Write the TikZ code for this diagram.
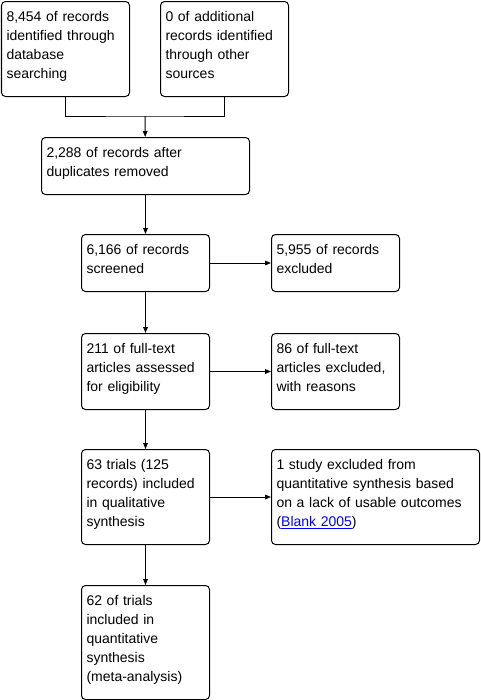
\documentclass[tikz,border=0pt]{standalone}
\usepackage{fontspec}
\setmainfont{Liberation Sans}
\usetikzlibrary{arrows.meta}

\begin{document}
\begin{tikzpicture}[x=0.75pt, y=-0.75pt,
    box/.style={draw, line width=0.75pt, rounded corners=3pt, anchor=north west,
        align=left, inner xsep=3.75pt, inner ysep=0pt,
        font=\fontsize{10.5pt}{14.25pt}\selectfont,
        execute at begin node={\rule{0pt}{15pt}},
        execute at end node={\rule[-13.5pt]{0pt}{0pt}}},
    narrow/.style={box, text width=88.5pt},
    wide/.style={box, text width=148.5pt},
    flow/.style={-{Triangle[length=4.5pt,width=3.5pt]}, line width=0.75pt}]
    \useasboundingbox (0,0) rectangle (481,700);

    % Identification boxes
    \node[narrow] (ident) at (1,1) {8,454 of records\\identified through\\database\\searching};
    \node[narrow] (other) at (160,1) {0 of additional\\records identified\\through other\\sources};

    % Duplicates box
    \node[wide] (dupl) at (41,137) {2,288 of records after\\duplicates removed};

    % Screening
    \node[narrow] (screen) at (81,234) {6,166 of records\\screened};
    \node[narrow] (excl) at (271,234) {5,955 of records\\excluded};

    % Eligibility
    \node[narrow] (full) at (81,333) {211 of full-text\\articles assessed\\for eligibility};
    \node[narrow] (fullexcl) at (271,333) {86 of full-text\\articles excluded,\\with reasons};

    % Included
    \node[narrow] (qual) at (81,449) {63 trials (125\\records) included\\in qualitative\\synthesis};
    \node[wide] (quantexcl) at (271,449) {1 study excluded from\\quantitative synthesis based\\on a lack of usable outcomes\\(\textcolor{blue}{\underline{Blank 2005}})};
    \node[narrow] (quant) at (81,585) {62 of trials\\included in\\quantitative\\synthesis\\(meta-analysis)};

    % Merge of the two sources
    \coordinate (merge) at (145,116);
    \draw[line width=0.75pt] (ident.south) |- (merge) -| (other.south);
    \draw[flow] (merge) -- (dupl);

    % Arrows down the flow
    \draw[flow] (dupl) -- (screen);
    \draw[flow] (screen) -- (full);
    \draw[flow] (full) -- (qual);
    \draw[flow] (qual) -- (quant);

    % Arrows to exclusions
    \draw[flow] (screen) -- (excl);
    \draw[flow] (full) -- (fullexcl);
    \draw[flow] (qual) -- (quantexcl);
\end{tikzpicture}
\end{document}
